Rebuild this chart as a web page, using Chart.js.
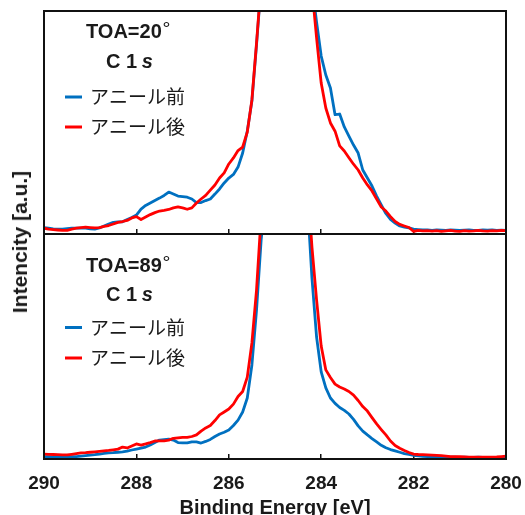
<!DOCTYPE html>
<html>
<head>
    <meta charset="utf-8">
    <title>C 1s spectra</title>
    <style>
        body { margin: 0; overflow: hidden; background: #fff; }
        #wrap { position: relative; width: 525px; height: 515px; overflow: hidden; }
        #topPanel { position: absolute; left: 0; top: 0; }
        #bottomPanel { position: absolute; left: 0; top: 224px; }
        #yTitle {
            position: absolute; left: 20px; top: 242px;
            transform: translate(-50%, -50%) rotate(-90deg);
            font: bold 21px "Liberation Sans", Arial, sans-serif;
            line-height: 24px; white-space: nowrap; color: #1a1a1a;
        }
    </style>
    <script src="https://cdn.jsdelivr.net/npm/chart.js"></script>
</head>
<body>
<div id="wrap">
    <canvas id="topPanel" width="525" height="240"></canvas>
    <canvas id="bottomPanel" width="525" height="300"></canvas>
    <div id="yTitle">Intencity [a.u.]</div>
</div>
<script>
    // binding energy grid (eV)
    var energy = [
        290.0, 289.9, 289.8, 289.7, 289.6, 289.5, 289.4, 289.3, 289.2, 289.1,
        289.0, 288.9, 288.8, 288.7, 288.6, 288.5, 288.4, 288.3, 288.2, 288.1,
        288.0, 287.9, 287.8, 287.7, 287.6, 287.5, 287.4, 287.3, 287.2, 287.1,
        287.0, 286.9, 286.8, 286.7, 286.6, 286.5, 286.4, 286.3, 286.2, 286.1,
        286.0, 285.9, 285.8, 285.7, 285.6, 285.5, 285.4, 285.3, 285.2, 285.1,
        285.0, 284.9, 284.8, 284.7, 284.6, 284.5, 284.4, 284.3, 284.2, 284.1,
        284.0, 283.9, 283.8, 283.7, 283.6, 283.5, 283.4, 283.3, 283.2, 283.1,
        283.0, 282.9, 282.8, 282.7, 282.6, 282.5, 282.4, 282.3, 282.2, 282.1,
        282.0, 281.9, 281.8, 281.7, 281.6, 281.5, 281.4, 281.3, 281.2, 281.1,
        281.0, 280.9, 280.8, 280.7, 280.6, 280.5, 280.4, 280.3, 280.2, 280.1,
        280.0
    ];

    // TOA = 20 deg, before anneal
    var before20 = [
        2.8, 2.6, 2.3, 2.2, 2.2, 2.4, 2.6, 2.6, 2.6, 2.6,
        2.3, 2.2, 2.7, 3.6, 4.5, 5.2, 5.4, 5.5, 6.5, 7.4,
        8.5, 11.2, 12.8, 13.9, 15.0, 16.1, 17.3, 18.8, 17.9, 17.0,
        16.8, 16.5, 15.7, 14.1, 14.1, 15.0, 15.7, 17.9, 20.2, 22.9,
        25.1, 26.7, 30.0, 36.3, 46.2, 59.6, 84.8, 112, 170, 240,
        310, 360, 390, 390, 360, 310, 240, 165, 112, 95,
        79.8, 71.3, 65.5, 53.5, 53.8, 48.0, 43.9, 39.9, 36.3, 28.7,
        25.1, 21.5, 17.0, 13.0, 9.2, 6.5, 4.9, 3.6, 3.1, 2.7,
        2.2, 2.0, 1.8, 1.8, 1.6, 1.8, 1.7, 1.6, 1.8, 1.7,
        1.6, 1.7, 1.8, 1.6, 1.6, 1.8, 1.7, 1.8, 1.6, 1.7,
        1.6
    ];

    // TOA = 20 deg, after anneal
    var after20 = [
        2.6, 2.2, 2.0, 1.8, 1.6, 1.6, 2.2, 2.6, 2.9, 3.1,
        2.9, 2.7, 2.9, 3.4, 3.8, 4.5, 5.2, 5.6, 6.1, 7.2,
        7.8, 6.5, 7.6, 8.7, 9.6, 10.3, 10.6, 11.0, 11.7, 12.2,
        11.7, 11.1, 11.7, 13.9, 15.7, 17.3, 19.7, 22.0, 25.1, 27.4,
        31.4, 34.1, 37.4, 39.0, 45.7, 60.1, 85.6, 113, 170, 240,
        310, 360, 390, 390, 360, 310, 240, 160, 110, 88,
        67.7, 56.5, 49.8, 46.1, 39.5, 37.2, 34.2, 31.3, 28.7, 25.1,
        22.0, 19.3, 15.7, 12.1, 10.3, 7.8, 5.6, 4.3, 3.6, 2.9,
        1.2, 1.6, 1.4, 1.5, 1.3, 1.5, 1.2, 1.4, 1.6, 1.3,
        1.2, 1.5, 1.3, 1.4, 1.6, 1.4, 1.3, 1.5, 1.4, 1.6,
        1.5
    ];

    // TOA = 89 deg, before anneal
    var before89 = [
        1.0, 1.0, 0.9, 0.9, 0.9, 0.9, 1.0, 1.1, 1.3, 1.5,
        1.7, 1.9, 2.2, 2.5, 2.7, 2.8, 3.0, 3.2, 3.5, 4.0,
        4.4, 4.8, 5.3, 6.2, 7.3, 8.4, 8.6, 8.8, 8.4, 7.3,
        7.2, 7.2, 7.6, 7.6, 7.1, 7.8, 8.7, 10.0, 11.1, 11.9,
        12.9, 14.9, 17.3, 20.9, 27.1, 41.8, 66.2, 97.3, 118, 170,
        240, 300, 330, 330, 300, 240, 170, 115, 80.4, 54.2,
        38.7, 31.6, 27.1, 24.7, 22.9, 21.6, 20.0, 17.6, 14.7, 12.4,
        10.7, 9.1, 7.6, 6.1, 5.0, 4.2, 3.6, 3.0, 2.4, 2.0,
        1.6, 1.4, 1.2, 1.1, 0.9, 0.9, 0.8, 0.9, 0.8, 0.8,
        0.7, 0.8, 0.7, 0.7, 0.8, 0.7, 0.6, 0.7, 0.6, 0.6,
        0.6
    ];

    // TOA = 89 deg, after anneal
    var after89 = [
        2.2, 2.1, 2.0, 1.9, 1.8, 1.8, 2.1, 2.4, 2.7, 2.8,
        3.0, 3.2, 3.4, 3.6, 3.8, 4.1, 4.4, 5.3, 4.9, 5.8,
        6.7, 6.2, 6.7, 7.3, 8.0, 8.1, 8.1, 8.4, 9.2, 9.4,
        9.6, 9.6, 10.0, 10.7, 12.4, 13.8, 14.9, 17.1, 19.6, 20.9,
        22.2, 24.4, 27.8, 30.0, 36.4, 51.6, 75.1, 108, 150, 210,
        280, 340, 370, 370, 340, 280, 200, 124, 94.2, 70.7,
        50.2, 39.6, 36.2, 33.3, 32.0, 31.1, 30.0, 28.4, 26.0, 23.3,
        21.3, 18.4, 15.6, 13.1, 10.7, 8.0, 6.0, 4.8, 3.8, 2.9,
        2.2, 2.0, 1.9, 1.8, 1.7, 1.6, 1.5, 1.3, 1.1, 1.0,
        1.0, 0.9, 0.8, 0.8, 0.8, 0.8, 0.8, 0.8, 0.9, 1.1,
        1.3
    ];

    var seriesLabels = ['アニール前', 'アニール後'];
    var seriesColors = ['#0070C0', '#FF0000'];
    var xTicks = [290, 288, 286, 284, 282, 280];

    var latinFont = '"Liberation Sans", Arial, sans-serif';
    var cjkFont = '"Noto Sans CJK JP", sans-serif';
    var inkColor = '#1a1a1a';

    Chart.defaults.font.family = latinFont;

    function toPoints(values) {
        return energy.map(function (e, i) {
            return { x: e, y: values[i] };
        });
    }

    // box around the plot area
    var framePlugin = {
        id: 'frame',
        afterDatasetsDraw: function (chart) {
            var a = chart.chartArea;
            var ctx = chart.ctx;
            ctx.save();
            ctx.strokeStyle = '#111';
            ctx.lineWidth = 2;
            ctx.strokeRect(a.left, a.top, a.right - a.left, a.bottom - a.top);
            ctx.restore();
        }
    };

    // angle / core level caption and the legend inside each panel
    var notesPlugin = {
        id: 'notes',
        afterDraw: function (chart, args, opts) {
            var a = chart.chartArea;
            var ctx = chart.ctx;
            var rows = opts.rows;
            ctx.save();
            ctx.fillStyle = inkColor;
            ctx.textAlign = 'left';
            ctx.textBaseline = 'alphabetic';

            var toa = 'TOA=' + opts.angle;
            ctx.font = 'bold 20px ' + latinFont;
            ctx.fillText(toa, 86, a.top + rows[0]);
            var w = ctx.measureText(toa).width;
            ctx.font = '20px ' + cjkFont;
            ctx.fillText('°', 86 + w + 1, a.top + rows[0] - 1);

            ctx.font = 'bold 20px ' + latinFont;
            ctx.fillText('C 1', 106, a.top + rows[1]);
            var w2 = ctx.measureText('C 1 ').width;
            ctx.font = 'italic bold 20px ' + latinFont;
            ctx.fillText('s', 106 + w2 - 1, a.top + rows[1]);

            chart.data.datasets.forEach(function (ds, i) {
                var y = a.top + rows[2 + i];
                ctx.strokeStyle = ds.borderColor;
                ctx.lineWidth = 3;
                ctx.beginPath();
                ctx.moveTo(65, y);
                ctx.lineTo(82, y);
                ctx.stroke();
                ctx.font = '19px ' + cjkFont;
                ctx.textBaseline = 'middle';
                ctx.fillText(ds.label, 90, y);
                ctx.textBaseline = 'alphabetic';
            });
            ctx.restore();
        }
    };

    function makeDatasets(before, after) {
        return [
            {
                label: seriesLabels[0],
                data: toPoints(before),
                borderColor: seriesColors[0],
                borderWidth: 2.8,
                pointRadius: 0,
                borderJoinStyle: 'round',
                tension: 0,
                clip: 0,
                order: 1
            },
            {
                label: seriesLabels[1],
                data: toPoints(after),
                borderColor: seriesColors[1],
                borderWidth: 2.8,
                pointRadius: 0,
                borderJoinStyle: 'round',
                tension: 0,
                clip: 0,
                order: 0
            }
        ];
    }

    function makePanel(canvasId, before, after, angle, rows, withLabels) {
        var ctx = document.getElementById(canvasId).getContext('2d');
        return new Chart(ctx, {
            type: 'line',
            data: { datasets: makeDatasets(before, after) },
            plugins: [framePlugin, notesPlugin],
            options: {
                responsive: false,
                animation: false,
                layout: {
                    padding: withLabels
                        ? { top: 10, left: 44, right: 19, bottom: 4 }
                        : { top: 11, left: 44, right: 19, bottom: 6 }
                },
                plugins: {
                    legend: { display: false },
                    tooltip: { enabled: false },
                    notes: { angle: angle, rows: rows }
                },
                scales: {
                    x: {
                        type: 'linear',
                        min: 280,
                        max: 290,
                        reverse: true,
                        afterBuildTicks: function (scale) {
                            scale.ticks = xTicks.map(function (v) { return { value: v }; });
                        },
                        afterFit: function (scale) {
                            // end labels may hang over the frame; keep the plot width fixed
                            scale.height = withLabels ? 61 : 0;
                            scale.paddingLeft = 0;
                            scale.paddingRight = 0;
                        },
                        ticks: {
                            display: withLabels,
                            maxRotation: 0,
                            padding: 18,
                            color: inkColor,
                            font: { size: 19, weight: 'bold' }
                        },
                        grid: {
                            drawOnChartArea: false,
                            drawTicks: true,
                            tickLength: -5,
                            color: '#111',
                            lineWidth: 1.5
                        },
                        border: { display: false },
                        title: {
                            display: withLabels,
                            text: 'Binding Energy [eV]',
                            color: inkColor,
                            padding: 0,
                            font: { size: 20, weight: 'bold' }
                        }
                    },
                    y: {
                        display: false,
                        min: 0,
                        max: 100
                    }
                }
            }
        });
    }

    makePanel('topPanel', before20, after20, '20', [27, 57, 86, 116], false);
    makePanel('bottomPanel', before89, after89, '89', [37.5, 66.5, 93.5, 124], true);
</script>
</body>
</html>
